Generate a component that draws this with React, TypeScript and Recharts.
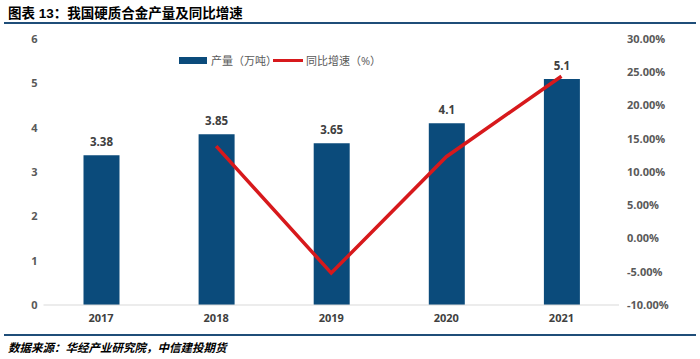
import { ComposedChart, Bar, Line, XAxis, YAxis, LabelList } from 'recharts';

const years = ['2017', '2018', '2019', '2020', '2021'];
const output = [3.38, 3.85, 3.65, 4.1, 5.1];
const growth = [null, 13.9, -5.2, 12.3, 24.4];
const leftTicks = [0, 1, 2, 3, 4, 5, 6];
const rightTicks = [-10, -5, 0, 5, 10, 15, 20, 25, 30];

const data = years.map((year, i) => ({ year, output: output[i], growth: growth[i] }));

const font = '"Open Sans", "Noto Sans CJK SC", sans-serif';
const titleFont = '"Liberation Sans", "Noto Sans CJK SC", sans-serif';

const App = () => {
  return (
    <div style={{ position: 'absolute', left: 0, top: 0, width: 700, height: 359, background: '#fff', overflow: 'hidden' }}>
      <div style={{ position: 'absolute', left: 8, top: 2, fontFamily: titleFont, fontWeight: 'bold', fontSize: 13.5, color: '#000', whiteSpace: 'nowrap' }}>
        图表 13：我国硬质合金产量及同比增速
      </div>
      <div style={{ position: 'absolute', left: 4, top: 22, width: 692, height: 2, background: '#1f4e79' }} />

      <ComposedChart
        width={700}
        height={335}
        data={data}
        margin={{ top: 39, right: 0, left: 0, bottom: 0 }}
        style={{ position: 'absolute', left: 0, top: 0 }}
      >
        <XAxis
          dataKey="year"
          axisLine={{ stroke: '#d9d9d9' }}
          tickLine={false}
          tickSize={0}
          tickMargin={9}
          height={30}
          tick={{ fill: '#404040', fontSize: 11, fontWeight: 'bold', fontFamily: font }}
        />
        <YAxis
          yAxisId="left"
          domain={[0, 6]}
          ticks={leftTicks}
          width={43.5}
          axisLine={false}
          tickLine={false}
          tickSize={0}
          tickMargin={6}
          tick={{ fill: '#595959', fontSize: 11, fontWeight: 'bold', fontFamily: font }}
        />
        <YAxis
          yAxisId="right"
          orientation="right"
          domain={[-10, 30]}
          ticks={rightTicks}
          width={81}
          axisLine={false}
          tickLine={false}
          tickSize={0}
          tickMargin={8}
          tickFormatter={(v: number) => `${v.toFixed(2)}%`}
          tick={{ fill: '#595959', fontSize: 11, fontWeight: 'bold', fontFamily: font, textAnchor: 'start' }}
        />
        <Bar yAxisId="left" dataKey="output" fill="#0b4b7b" barSize={36} isAnimationActive={false}>
          <LabelList
            dataKey="output"
            position="top"
            offset={9}
            style={{ fill: '#404040', fontSize: 11.5, fontWeight: 'bold', fontFamily: font }}
          />
        </Bar>
        <Line
          yAxisId="right"
          dataKey="growth"
          stroke="#d7191c"
          strokeWidth={3.5}
          dot={false}
          connectNulls={false}
          isAnimationActive={false}
        />
      </ComposedChart>

      <div style={{ position: 'absolute', left: 179, top: 57, width: 28, height: 7, background: '#0b4b7b' }} />
      <div style={{ position: 'absolute', left: 211, top: 52, fontFamily: font, fontSize: 11, color: '#595959', whiteSpace: 'nowrap' }}>
        产量（万吨）
      </div>
      <div style={{ position: 'absolute', left: 273, top: 59, width: 30, height: 3, background: '#d7191c' }} />
      <div style={{ position: 'absolute', left: 306, top: 52, fontFamily: font, fontSize: 11, color: '#595959', whiteSpace: 'nowrap' }}>
        同比增速（%）
      </div>

      <div style={{ position: 'absolute', left: 4, top: 334, width: 692, height: 2, background: '#1f4e79' }} />
      <div style={{ position: 'absolute', left: 8, top: 339, fontFamily: titleFont, fontWeight: 'bold', fontStyle: 'italic', fontSize: 11.5, color: '#000', whiteSpace: 'nowrap' }}>
        数据来源：华经产业研究院，中信建投期货
      </div>
    </div>
  );
};

export default App;
